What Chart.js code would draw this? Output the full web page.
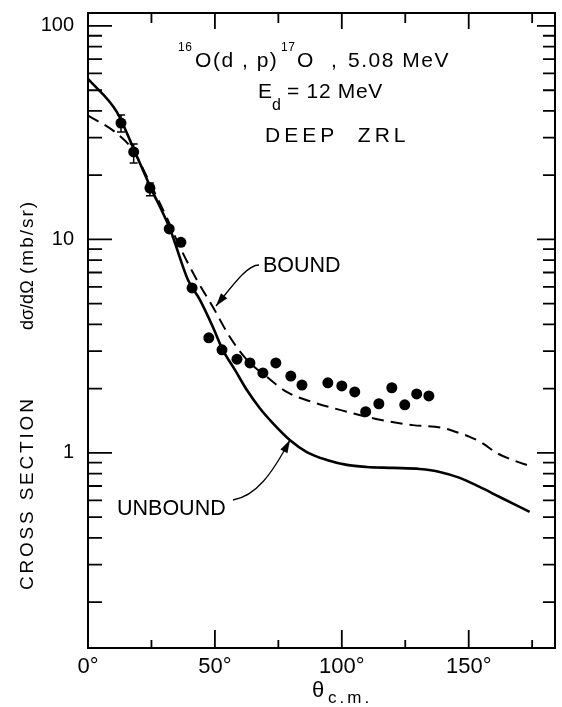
<!DOCTYPE html>
<html>
<head>
<meta charset="utf-8">
<script src="https://cdn.jsdelivr.net/npm/chart.js@4.4.1/dist/chart.umd.min.js"></script>
<style>
  html, body { margin: 0; padding: 0; background: #fff; }
  canvas { display: block; }
</style>
</head>
<body>
<canvas id="chart" width="562" height="707"></canvas>
<script>
// 16O(d,p)17O angular distribution
const FONT = "'Liberation Sans', Arial, Helvetica, sans-serif";

// measured points (theta c.m. in degrees, mb/sr)
const angles = [13, 18, 24.4, 32, 36.6, 41, 47.6, 52.8, 58.7, 63.8, 68.9, 74, 79.9, 84.3,
  94.5, 100, 105.1, 109.4, 114.6, 119.7, 124.8, 129.5, 134.3];
const crossSection = [35.1, 25.7, 17.4, 11.2, 9.7, 5.93, 3.46, 3.04, 2.75, 2.64, 2.37, 2.64, 2.29, 2.08,
  2.13, 2.06, 1.93, 1.56, 1.70, 2.02, 1.68, 1.89, 1.85];

// error bars on the first three points
const errAngles = [13, 18, 24.4];
const errLow = [31.9, 22.8, 16.0];
const errHigh = [38.3, 28.0, 18.4];

// DWBA curves
const unboundAngles = [0, 11.4, 18.5, 24.8, 32.3, 39.4, 44.1, 49.2, 53.1, 57.9, 62.6, 67.7, 72.8,
  79.5, 86.2, 94.1, 102, 109.8, 120, 130.7, 138.6, 146.5, 154.3, 162.2, 174];
const unboundValues = [56.5, 39.5, 25.7, 17.4, 11.2, 6.46, 5.21, 3.89, 3.04, 2.45, 1.97, 1.62, 1.38,
  1.15, 1.01, 0.927, 0.879, 0.860, 0.851, 0.841, 0.815, 0.764, 0.693, 0.622, 0.530];

const boundAngles = [0, 10.6, 17.7, 24.4, 31.1, 36.2, 42.9, 49.2, 55.9, 62.6, 70.5, 78.3, 88.6,
  102, 115, 128, 139.8, 145.3, 150.4, 155.5, 161, 167.3, 174];
const boundValues = [38, 31.9, 26.2, 18.4, 12.6, 9.22, 6.46, 4.83, 3.49, 2.73, 2.27, 1.93, 1.73,
  1.56, 1.43, 1.35, 1.31, 1.25, 1.19, 1.11, 1.00, 0.927, 0.869];

// axis ticks
const xTicks = [25, 50, 75, 100, 125, 150, 175];
const yDecades = [0.1, 1, 10, 100];
const yLabels = [1, 10, 100];

function pts(xs, ys) {
  return xs.map((a, i) => ({x: a, y: ys[i]}));
}

function txt(ctx, s, x, y, size, spacing) {
  ctx.font = size + 'px ' + FONT;
  ctx.letterSpacing = (spacing || 0) + 'px';
  ctx.fillText(s, x, y);
}

function arrow(ctx, x0, y0, c1x, c1y, c2x, c2y, x1, y1) {
  ctx.beginPath();
  ctx.moveTo(x0, y0);
  ctx.bezierCurveTo(c1x, c1y, c2x, c2y, x1, y1);
  ctx.stroke();
  const ang = Math.atan2(y1 - c2y, x1 - c2x);
  ctx.beginPath();
  ctx.moveTo(x1, y1);
  ctx.lineTo(x1 - 13 * Math.cos(ang) + 4 * Math.sin(ang), y1 - 13 * Math.sin(ang) - 4 * Math.cos(ang));
  ctx.lineTo(x1 - 13 * Math.cos(ang) - 4 * Math.sin(ang), y1 - 13 * Math.sin(ang) + 4 * Math.cos(ang));
  ctx.closePath();
  ctx.fill();
}

const decorations = {
  id: 'decorations',
  afterDatasetsDraw(chart) {
    const {ctx, chartArea: a, scales: {x, y}} = chart;
    ctx.save();
    ctx.strokeStyle = '#000';
    ctx.fillStyle = '#000';

    // frame top and right
    ctx.lineWidth = 2;
    ctx.beginPath();
    ctx.moveTo(a.left, a.top);
    ctx.lineTo(a.right, a.top);
    ctx.lineTo(a.right, a.bottom);
    ctx.stroke();

    // inward ticks
    ctx.lineWidth = 1.8;
    yDecades.forEach(d => {
      for (let m = 1; m <= 9; m++) {
        const v = d * m;
        if (v < y.min || v > y.max) continue;
        const py = y.getPixelForValue(v);
        const major = m === 1;
        ctx.beginPath();
        ctx.moveTo(a.left, py);
        ctx.lineTo(a.left + (major ? 24 : 14), py);
        ctx.moveTo(a.right, py);
        ctx.lineTo(a.right - (major ? 18 : 12), py);
        ctx.stroke();
      }
    });
    xTicks.forEach(v => {
      const px = x.getPixelForValue(v);
      const major = v % 50 === 0;
      ctx.beginPath();
      ctx.moveTo(px, a.bottom);
      ctx.lineTo(px, a.bottom - (major ? 18 : 8));
      ctx.moveTo(px, a.top);
      ctx.lineTo(px, a.top + (major ? 16 : 10));
      ctx.stroke();
    });

    // error bars
    ctx.lineWidth = 1.5;
    errAngles.forEach((ang, i) => {
      const px = x.getPixelForValue(ang);
      const lo = y.getPixelForValue(errLow[i]);
      const hi = y.getPixelForValue(errHigh[i]);
      ctx.beginPath();
      ctx.moveTo(px, lo); ctx.lineTo(px, hi);
      ctx.moveTo(px - 4, lo); ctx.lineTo(px + 4, lo);
      ctx.moveTo(px - 4, hi); ctx.lineTo(px + 4, hi);
      ctx.stroke();
    });

    // reaction label
    ctx.textBaseline = 'alphabetic';
    ctx.textAlign = 'left';
    txt(ctx, '16', 178, 51, 12, 0.5);
    txt(ctx, 'O', 195, 67, 21);
    txt(ctx, '(d , p)', 213, 67, 21, 1.5);
    txt(ctx, '17', 281, 51, 12, 0.5);
    txt(ctx, 'O', 297, 67, 21);
    txt(ctx, ',', 331, 67, 21);
    txt(ctx, '5.08 MeV', 348, 67, 21, 1.5);
    txt(ctx, 'E', 258, 98, 21);
    txt(ctx, 'd', 272, 110, 16);
    txt(ctx, '= 12 MeV', 287, 98, 21, 0.7);
    txt(ctx, 'DEEP  ZRL', 265, 142, 21, 4);

    // curve labels with leaders
    txt(ctx, 'BOUND', 263, 272, 21.5, 0);
    txt(ctx, 'UNBOUND', 117, 515, 21.5, 0);
    ctx.lineWidth = 1.3;
    arrow(ctx, 259, 265, 248, 265, 236, 281, 216, 306);
    arrow(ctx, 233, 500, 256, 496, 272, 474, 290, 440);

    // x title
    txt(ctx, 'θ', 312, 697, 22);
    txt(ctx, 'c.m.', 328, 703, 17, 3);

    // y title
    ctx.save();
    ctx.translate(33, 590);
    ctx.rotate(-Math.PI / 2);
    txt(ctx, 'CROSS SECTION', 0, 0, 19, 2.8);
    txt(ctx, 'dσ/dΩ', 260, 0, 18, 0);
    txt(ctx, '(mb/sr)', 316, 0, 19, 2);
    ctx.restore();

    ctx.restore();
  }
};

new Chart(document.getElementById('chart'), {
  type: 'scatter',
  data: {
    datasets: [
      {
        label: 'data',
        data: pts(angles, crossSection),
        pointRadius: 5.5,
        pointBackgroundColor: '#000',
        pointBorderWidth: 0
      },
      {
        type: 'line',
        label: 'UNBOUND',
        data: pts(unboundAngles, unboundValues),
        borderColor: '#000',
        borderWidth: 2.6,
        pointRadius: 0,
        cubicInterpolationMode: 'monotone',
        fill: false
      },
      {
        type: 'line',
        label: 'BOUND',
        data: pts(boundAngles, boundValues),
        borderColor: '#000',
        borderWidth: 2,
        borderDash: [12, 7],
        pointRadius: 0,
        cubicInterpolationMode: 'monotone',
        fill: false
      }
    ]
  },
  options: {
    responsive: false,
    animation: false,
    layout: {padding: {top: 13, right: 7, left: 0, bottom: 0}},
    plugins: {legend: {display: false}, tooltip: {enabled: false}},
    scales: {
      x: {
        type: 'linear',
        min: 0,
        max: 184,
        afterFit: s => { s.height = 59; s.paddingLeft = 0; s.paddingRight = 0; },
        grid: {display: false, drawTicks: false},
        border: {color: '#000', width: 2},
        ticks: {
          stepSize: 50,
          includeBounds: false,
          padding: 6,
          maxRotation: 0,
          color: '#000',
          font: {family: FONT, size: 22},
          callback: v => (v % 50 === 0 ? v + '°' : '')
        }
      },
      y: {
        type: 'logarithmic',
        min: 0.122,
        max: 115,
        afterFit: s => { s.width = 88; s.paddingTop = 0; s.paddingBottom = 0; },
        grid: {display: false, drawTicks: false},
        border: {color: '#000', width: 2},
        ticks: {
          autoSkip: false,
          padding: 14,
          color: '#000',
          font: {family: FONT, size: 20},
          callback: v => (yLabels.some(l => Math.abs(l - v) < 1e-6) ? String(v) : '')
        }
      }
    }
  },
  plugins: [decorations]
});
</script>
</body>
</html>
